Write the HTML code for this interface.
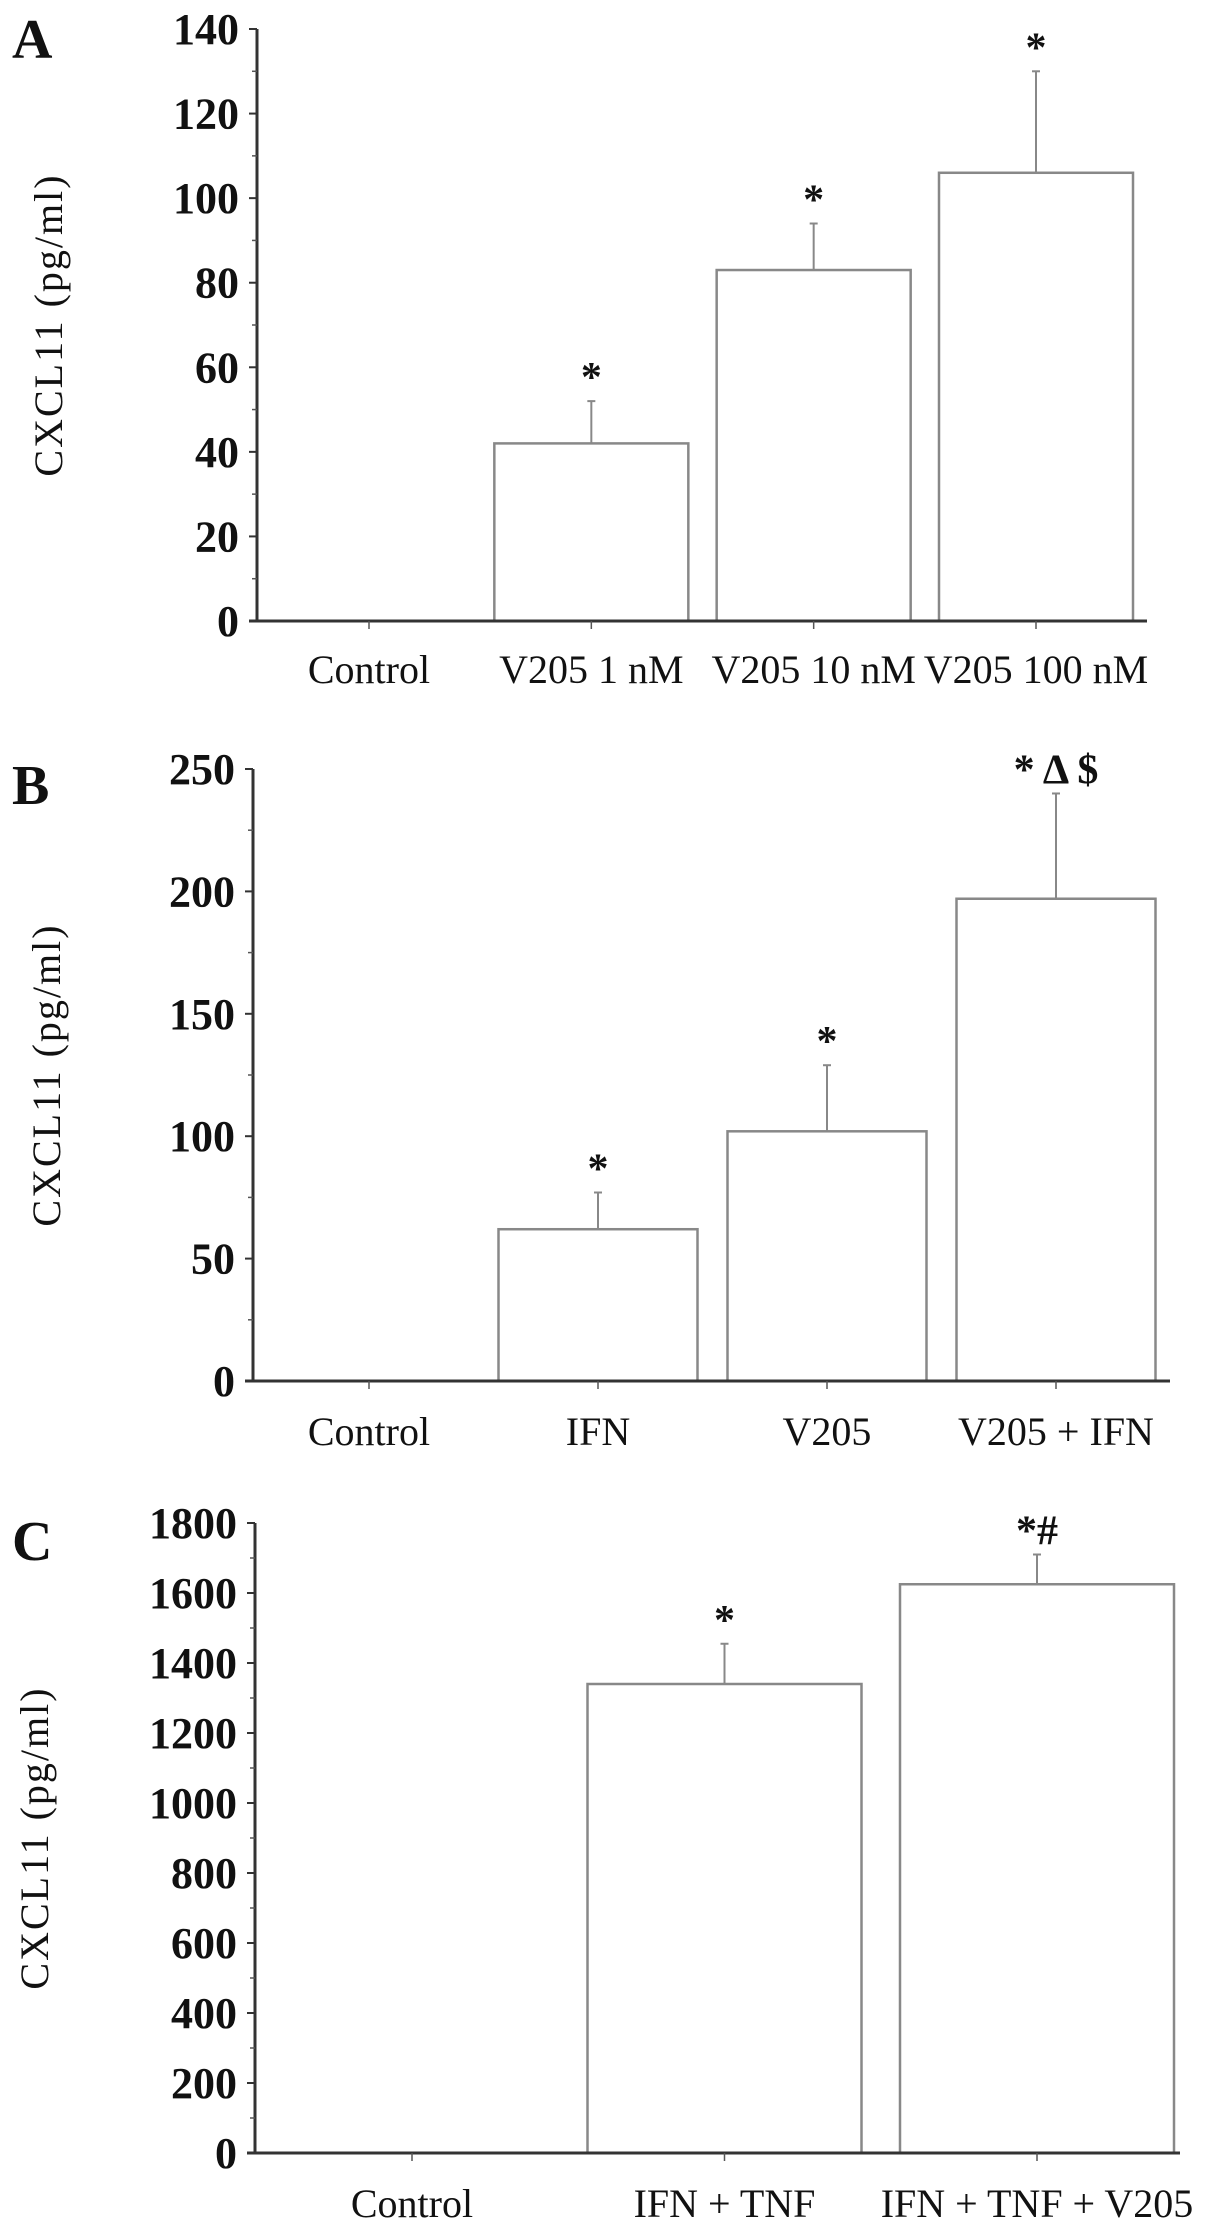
<!DOCTYPE html>
<html><head><meta charset="utf-8"><style>
html,body{margin:0;padding:0;background:#fff;}
svg{display:block;}
text{font-family:"Liberation Serif",serif;fill:#111;}
</style></head><body>
<svg id="fig" width="1205" height="2238" viewBox="0 0 1205 2238"></svg>
<script>
// Panel A data
const catsA = ["Control","V205 1 nM","V205 10 nM","V205 100 nM"];
const valsA = [0,42,83,106];
const errA = [0,52,94,130];
const sigA = ["","*","*","*"];
const ticksA = [0,20,40,60,80,100,120,140];
// Panel B data
const catsB = ["Control","IFN","V205","V205 + IFN"];
const valsB = [0,62,102,197];
const errB = [0,77,129,240];
const sigB = ["","*","*","* \u0394 $"];
const ticksB = [0,50,100,150,200,250];
// Panel C data
const catsC = ["Control","IFN + TNF","IFN + TNF + V205"];
const valsC = [0,1340,1625];
const errC = [0,1455,1710];
const sigC = ["","*","*#"];
const ticksC = [0,200,400,600,800,1000,1200,1400,1600,1800];

const NS="http://www.w3.org/2000/svg";
const svg=document.getElementById('fig');
function mk(tag,attrs,parent){const e=document.createElementNS(NS,tag);for(const k in attrs)e.setAttribute(k,attrs[k]);(parent||svg).appendChild(e);return e;}

function panel(p){
  const g=mk('g',{});
  
  
  const ymax=p.ticks[p.ticks.length-1];
  const y=v=>p.y0-(v/ymax)*(p.y0-p.yTop);
  const n=p.cats.length;
  const x=i=>p.xFirst+i*(p.xLast-p.xFirst)/(n-1);
  const L=mk('text',{x:p.lx,y:p.ly,'font-size':56,'font-weight':'bold'},g);L.textContent=p.id;
  
  
  const t=mk('text',{x:0,y:0,'font-size':40,'letter-spacing':2,'text-anchor':'middle',transform:`translate(${p.tx},${(p.y0+p.yTop)/2}) rotate(-90)`},g);
  t.textContent="CXCL11 (pg/ml)";
  
  
  for(let i=0;i<n;i++){
    if(p.vals[i]<=0)continue;
    const cx=x(i);
    const b=mk('rect',{x:cx-p.bw/2,y:y(p.vals[i]),width:p.bw,height:p.y0-y(p.vals[i]),fill:'#fff',stroke:'#888','stroke-width':2.5},g);
    
    
    const e=mk('line',{x1:cx,x2:cx,y1:y(p.vals[i]),y2:y(p.err[i]),stroke:'#888','stroke-width':2},g);
    
    
    mk('line',{x1:cx-4,x2:cx+4,y1:y(p.err[i]),y2:y(p.err[i]),stroke:'#888','stroke-width':2},g);
    const s=mk('text',{x:cx,y:y(p.err[i])-10,'font-size':42,'font-weight':'bold','text-anchor':'middle'},g);
    s.textContent=p.sig[i];
    
    
  }
  const ya=mk('line',{x1:p.ax,x2:p.ax,y1:p.yTop,y2:p.y0,stroke:'#333','stroke-width':3},g);
  
  
  const xa=mk('line',{x1:p.ax-8,x2:p.axEnd,y1:p.y0,y2:p.y0,stroke:'#333','stroke-width':3},g);
  
  
  const step=p.ticks[1]-p.ticks[0];
  for(let k=0;k<p.ticks.length;k++){
    const v=p.ticks[k];
    mk('line',{x1:p.ax-8,x2:p.ax,y1:y(v),y2:y(v),stroke:'#333','stroke-width':2},g);
    if(k<p.ticks.length-1) mk('line',{x1:p.ax-5,x2:p.ax,y1:y(v+step/2),y2:y(v+step/2),stroke:'#555','stroke-width':1.5},g);
    const tl=mk('text',{x:p.ax-18,y:y(v)+15,'font-size':44,'font-weight':'bold','text-anchor':'end'},g);
    tl.textContent=v;
    
    
  }
  for(let i=0;i<n;i++){
    mk('line',{x1:x(i),x2:x(i),y1:p.y0,y2:p.y0+8,stroke:'#555','stroke-width':1.5},g);
    const cl=mk('text',{x:x(i),y:p.labY,'font-size':40,'text-anchor':'middle'},g);
    cl.textContent=p.cats[i];
    
    
  }
}
panel({id:'A',cats:catsA,vals:valsA,err:errA,sig:sigA,ticks:ticksA,y0:621,yTop:29,ax:257,axEnd:1147,xFirst:369,xLast:1036,bw:194,labY:683,tx:62,lx:12,ly:58});
panel({id:'B',cats:catsB,vals:valsB,err:errB,sig:sigB,ticks:ticksB,y0:1381,yTop:769,ax:253,axEnd:1170,xFirst:369,xLast:1056,bw:199,labY:1445,tx:60,lx:12,ly:804});
panel({id:'C',cats:catsC,vals:valsC,err:errC,sig:sigC,ticks:ticksC,y0:2153,yTop:1523,ax:255,axEnd:1180,xFirst:412,xLast:1037,bw:274,labY:2217,tx:48,lx:12,ly:1560});
</script>
</body></html>
